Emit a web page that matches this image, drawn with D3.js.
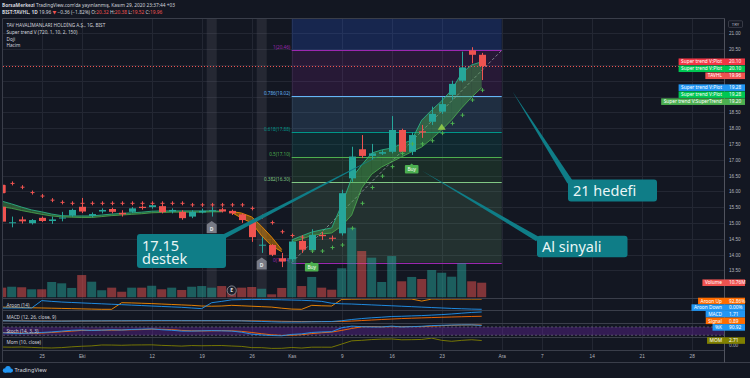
<!DOCTYPE html>
<html>
<head>
<meta charset="utf-8">
<script src="https://cdn.jsdelivr.net/npm/d3@7"></script>
<style>
  body { margin: 0; background: #131722; }
  svg { display: block; font-family: "Noto Sans", "DejaVu Sans", sans-serif; }
</style>
</head>
<body>
<div id="chart"></div>
<script>
// daily bars, BIST:TAVHL, Sep 21 - Nov 27 2020 (Oct 29 holiday)
const dates = [
  '2020-09-21','2020-09-22','2020-09-23','2020-09-24','2020-09-25','2020-09-28','2020-09-29','2020-09-30',
  '2020-10-01','2020-10-02','2020-10-05','2020-10-06','2020-10-07','2020-10-08','2020-10-09','2020-10-12',
  '2020-10-13','2020-10-14','2020-10-15','2020-10-16','2020-10-19','2020-10-20','2020-10-21','2020-10-22',
  '2020-10-23','2020-10-26','2020-10-27','2020-10-28','2020-10-30','2020-11-02','2020-11-03','2020-11-04',
  '2020-11-05','2020-11-06','2020-11-09','2020-11-10','2020-11-11','2020-11-12','2020-11-13','2020-11-16',
  '2020-11-17','2020-11-18','2020-11-19','2020-11-20','2020-11-23','2020-11-24','2020-11-25','2020-11-26',
  '2020-11-27'
]
const opens = [15.51,15.00,15.11,14.99,15.16,15.06,15.14,15.23,15.51,15.22,15.36,15.44,15.32,15.35,15.51,15.50,
  15.53,15.36,15.35,15.20,15.33,15.38,15.43,15.38,15.27,15.04,14.29,14.30,13.88,13.85,14.43,14.14,
  14.62,14.53,14.67,16.41,17.33,17.12,17.19,17.25,17.94,17.25,17.90,18.20,18.52,19.05,19.50,20.46,20.32]
const highs = [15.56,15.20,15.20,15.12,15.20,15.20,15.35,15.45,15.79,15.33,15.46,15.48,15.40,15.50,15.55,15.62,
  15.58,15.46,15.40,15.40,15.45,15.50,15.48,15.42,15.30,15.10,14.55,14.33,14.05,14.45,14.52,14.80,
  14.72,14.60,16.05,17.41,17.78,17.50,17.30,18.38,17.98,17.86,18.10,18.68,18.99,19.50,20.42,20.56,20.38]
const lows = [15.00,14.86,14.98,14.95,15.03,14.97,15.05,15.20,15.31,15.18,15.30,15.30,15.20,15.32,15.42,15.45,
  15.30,15.30,15.10,15.15,15.30,15.20,15.33,15.25,15.00,14.40,14.05,13.95,13.60,13.80,14.05,14.05,
  14.46,14.42,14.60,16.30,17.05,17.00,17.15,17.20,17.20,17.15,17.69,18.10,18.45,18.90,19.45,20.05,19.52]
const closes = [15.04,15.02,15.05,15.09,15.06,15.11,15.17,15.41,15.36,15.28,15.41,15.35,15.27,15.46,15.47,15.56,
  15.34,15.41,15.15,15.35,15.38,15.40,15.36,15.30,15.09,14.55,14.31,13.99,13.78,14.41,14.15,14.62,
  14.58,14.50,15.94,17.10,17.12,17.20,17.24,17.94,17.25,17.78,17.86,18.45,18.76,19.40,19.92,20.32,19.96]
// volume, millions
const volumes = [7.1,7.8,7.4,5.9,5.9,11.3,10.3,6.9,16.4,11.5,5.2,7.1,4.1,7.1,7.1,8.5,
  5.9,7.1,5.4,7.8,8.3,7.1,8.3,6.9,7.1,7.6,6.3,2.2,6.9,28.8,8.3,15.0,
  7.1,5.6,21.4,51.3,34.1,29.2,11.3,30.4,11.8,15.0,13.5,20.1,18.1,15.2,25.1,11.8,10.76]

// Super trend V: two plots forming the cloud, plus the trailing stop crosses
const stFast = [15.69,15.60,15.50,15.41,15.35,15.28,15.23,15.22,15.22,15.22,15.25,15.28,15.30,15.32,15.34,15.37,
  15.38,15.38,15.38,15.38,15.38,15.38,15.37,15.33,15.15,15.00,14.59,14.27,14.09,14.46,14.59,14.71,
  14.78,14.84,15.57,16.42,16.83,17.21,17.31,17.37,17.50,17.62,18.25,18.57,18.86,19.21,19.74,20.00,20.10]
const stSlow = [15.51,15.46,15.39,15.33,15.27,15.22,15.19,15.18,15.17,15.17,15.20,15.23,15.25,15.27,15.29,15.32,
  15.33,15.34,15.34,15.34,15.34,15.35,15.35,15.36,15.31,15.19,14.89,14.55,14.16,14.40,14.49,14.60,
  14.65,14.68,14.90,15.25,16.10,16.54,16.77,16.93,17.09,17.25,17.40,17.66,17.94,18.26,18.64,18.98,19.28]
const stDown = [null,16.25,16.13,15.96,15.85,15.72,15.65,15.62,15.62,15.62,15.62,15.62,15.62,15.62,15.62,15.62,
  15.62,15.62,15.62,15.57,15.57,15.57,15.57,15.57,15.57,15.46,15.20,15.01,14.72,14.60,14.55,null,
  null,null,null,null,null,null,null,null,null,null,null,null,null,null,null,null,null]
const stUp = [null,null,null,null,null,null,null,null,null,null,null,null,null,null,null,null,
  null,null,null,null,null,null,null,null,null,null,null,null,null,null,null,14.11,
  14.11,14.22,14.30,14.83,15.62,16.12,16.48,16.78,17.20,17.50,17.50,17.60,17.84,18.15,18.41,18.89,19.20]
const buySignals = [31, 41]
const sellSignals = [0]
const trendMarks = [44]
const dojiBars = [21, 26]
const earningsBar = 23

// indicator panes
const aroonUp = [20,18,16,14,12,10,8,6,4,2,0,0,60,58,55,52,48,44,40,36,30,28,30,36,32,
  28,24,20,10,2,0,36,32,30,90,92,93,93,93,93,94,93,75,93,93,93,93,93,92.86]
const aroonDown = [12,12,12,12,79,72,66,62,58,54,50,46,42,38,34,30,26,22,18,12,6,60,72,86,88,
  90,89,88,86,84,82,78,72,55,50,48,44,40,36,32,28,24,20,16,12,8,5,2,0]
const macdLine = [0.02,0.0,-0.02,-0.03,-0.04,-0.04,-0.04,-0.02,0.0,0.0,0.01,0.02,0.02,0.03,0.04,0.05,
  0.05,0.05,0.04,0.04,0.04,0.04,0.04,0.03,0.01,-0.05,-0.10,-0.16,-0.21,-0.20,-0.20,-0.16,
  -0.13,-0.11,0.04,0.27,0.45,0.60,0.71,0.85,0.89,0.96,1.02,1.11,1.21,1.33,1.48,1.62,1.71]
const signalLine = [0.03,0.03,0.02,0.01,0.0,-0.01,-0.02,-0.02,-0.02,-0.01,-0.01,0.0,0.0,0.01,0.02,0.03,
  0.03,0.04,0.04,0.04,0.04,0.04,0.04,0.04,0.03,0.02,0.0,-0.03,-0.07,-0.10,-0.12,-0.13,
  -0.13,-0.13,-0.10,-0.03,0.07,0.17,0.27,0.36,0.45,0.52,0.58,0.64,0.70,0.75,0.80,0.85,0.89]
const stochK = [38,34,33,36,40,44,50,56,58,55,57,60,58,62,64,66,60,56,50,50,52,54,52,50,42,
  28,22,18,16,26,30,40,44,46,74,86,82,80,80,86,80,82,85,90,92,94,95,95,90.92]
const stochD = [40,37,35,34,36,40,45,50,55,56,57,57,58,60,61,64,63,61,55,52,51,52,53,52,48,
  40,31,23,19,20,24,32,38,43,55,69,81,83,81,82,82,83,82,86,89,92,94,95,94]
const momentum = [-0.7,-0.8,-0.7,-0.9,-1.1,-1.2,-1.0,-0.6,-0.3,-0.1,0.37,0.33,0.22,0.37,0.41,0.45,
  0.17,0.0,-0.21,0.07,-0.03,0.05,0.09,-0.16,-0.38,-1.01,-1.04,-1.42,-1.37,-0.94,-1.23,-0.78,
  -0.78,-0.80,0.85,2.55,2.82,3.21,3.46,3.53,3.10,3.16,3.28,3.95,2.82,2.30,2.80,3.12,2.71]

// fibonacci retracement, anchored Nov 2 (13.74) -> Dec 1 (20.46)
const fibLevels = [0, 0.382, 0.5, 0.618, 0.786, 1]
const fibPrices = [13.74, 16.30, 17.10, 17.88, 19.02, 20.46]
const fibFrom = 29, fibTo = 50

// axes
const tickIdx = [4, 8, 15, 20, 25, 29, 34, 39, 44, 50, 54, 59, 64, 69]
const tickLabels = ['25','Eki','12','19','26','Kas','9','16','23','Ara','7','14','21','28']
const priceGrid = [13.5,14,14.5,15,15.5,16,16.5,17,17.5,18,18.5,19,19.5,20,20.5,21]
const priceLabelTicks = [13.5,14,14.5,15,15.5,16,16.5,17,17.5,18,18.5,20.5,21]

const UP = '#26a69a', DN = '#ef5350'
const FIB_LINE = ['#9c27b0','#81c784','#4caf50','#009688','#64b5f6','#9c27b0']
const FIB_ZONE = ['#81c784','#4caf50','#009688','#64b5f6','#9c27b0','#2962ff']
const TXT = '#d1d4dc', AXT = '#b2b5be', GRID = '#232733', SEP = '#3a3e4a'

const W = 750, H = 378
const L = 3, R = 724, TOP = 18.3, MAINB = 297.7, AXT_Y = 350

const svg = d3.select('#chart').append('svg')
  .attr('width', W).attr('height', H)
  .style('background', '#131722')

const x = d3.scaleLinear().domain([0, 69]).range([1.7, 691.7])
const y = d3.scaleLinear().domain([13.5, 21]).range([270.3, 33.3])
const yVol = d3.scaleLinear().domain([0, d3.max(volumes)]).range([297.3, 227.7])
const yAroon = d3.scaleLinear().domain([0, 100]).range([309.3, 298.3])
const yMacd = d3.scaleLinear().domain([-0.3, 1.8]).range([322.5, 311.5])
const yStoch = d3.scaleLinear().domain([0, 100]).range([338, 324.2])
const yMom = d3.scaleLinear().domain([-2, 4.3]).range([349.5, 337.5])

const bars = dates.map((date, i) => ({ i, date, o: opens[i], h: highs[i], l: lows[i], c: closes[i], v: volumes[i] }))
const px = i => Math.round(x(i)) + 0.5

const defs = svg.append('defs')
defs.append('clipPath').attr('id', 'mainClip').append('rect')
  .attr('x', L).attr('y', TOP).attr('width', R - L).attr('height', MAINB - TOP)
defs.append('clipPath').attr('id', 'indClip').append('rect')
  .attr('x', L).attr('y', MAINB).attr('width', R - L).attr('height', AXT_Y - MAINB)

// vertical grid through every pane
svg.append('g').selectAll('line').data(tickIdx).join('line')
  .attr('x1', d => px(d)).attr('x2', d => px(d))
  .attr('y1', TOP).attr('y2', AXT_Y)
  .attr('stroke', GRID)

const main = svg.append('g').attr('clip-path', 'url(#mainClip)')

// horizontal price grid
main.append('g').selectAll('line').data(priceGrid).join('line')
  .attr('x1', L).attr('x2', R)
  .attr('y1', d => Math.round(y(d)) + 0.5).attr('y2', d => Math.round(y(d)) + 0.5)
  .attr('stroke', GRID)

// doji highlight columns
main.append('g').selectAll('rect').data(dojiBars).join('rect')
  .attr('x', d => x(d) - 5).attr('width', 10)
  .attr('y', TOP).attr('height', MAINB - TOP)
  .attr('fill', 'rgba(120,123,134,0.18)')

// fib zones, lines, labels
const fx0 = x(fibFrom), fx1 = x(fibTo)
const fib = main.append('g')
fibPrices.forEach((p, k) => {
  const top = k < fibPrices.length - 1 ? y(fibPrices[k + 1]) : TOP
  fib.append('rect')
    .attr('x', fx0).attr('width', fx1 - fx0)
    .attr('y', top).attr('height', y(p) - top)
    .attr('fill', FIB_ZONE[k]).attr('fill-opacity', k === 5 ? 0.2 : 0.15)
})
fibPrices.forEach((p, k) => {
  const yy = Math.round(y(p)) + 0.5
  fib.append('line').attr('x1', fx0).attr('x2', fx1).attr('y1', yy).attr('y2', yy)
    .attr('stroke', FIB_LINE[k]).attr('stroke-width', 1.2)
  fib.append('text').attr('x', fx0 - 1.5).attr('y', yy - 2)
    .attr('text-anchor', 'end').attr('font-size', 4.6).attr('fill', FIB_LINE[k])
    .text(`${fibLevels[k]}(${p.toFixed(2)})`)
})
fib.append('line')
  .attr('x1', fx0).attr('y1', y(fibPrices[0]))
  .attr('x2', fx1).attr('y2', y(fibPrices[5]))
  .attr('stroke', '#9598a1').attr('stroke-width', 0.8).attr('stroke-dasharray', '3,2')

// volume
main.append('g').selectAll('rect').data(bars).join('rect')
  .attr('x', d => x(d.i) - 4.5).attr('width', 9)
  .attr('y', d => yVol(d.v)).attr('height', d => yVol(0) - yVol(d.v))
  .attr('fill', d => d.c >= d.o ? 'rgba(38,166,154,0.5)' : 'rgba(239,83,80,0.5)')

// super trend cloud
const cloud = main.append('g')
for (let i = 0; i < bars.length - 1; i++) {
  const up0 = stFast[i] >= stSlow[i], up1 = stFast[i + 1] >= stSlow[i + 1]
  if (up0 !== up1) continue
  const pts = [[x(i), y(stFast[i])], [x(i + 1), y(stFast[i + 1])], [x(i + 1), y(stSlow[i + 1])], [x(i), y(stSlow[i])]]
  cloud.append('polygon').attr('points', pts.join(' '))
    .attr('fill', up0 ? 'rgba(76,175,80,0.42)' : 'rgba(255,152,0,0.45)')
  cloud.append('line').attr('x1', pts[0][0]).attr('y1', pts[0][1]).attr('x2', pts[1][0]).attr('y2', pts[1][1])
    .attr('stroke', up0 ? '#2bbd8e' : '#ff9800').attr('stroke-width', 0.8)
  cloud.append('line').attr('x1', pts[3][0]).attr('y1', pts[3][1]).attr('x2', pts[2][0]).attr('y2', pts[2][1])
    .attr('stroke', up0 ? '#4caf50' : '#ff9800').attr('stroke-width', 0.8)
}

// candles
const candles = main.append('g')
candles.selectAll('line').data(bars).join('line')
  .attr('x1', d => px(d.i)).attr('x2', d => px(d.i))
  .attr('y1', d => y(d.h)).attr('y2', d => y(d.l))
  .attr('stroke', d => d.c >= d.o ? UP : DN)
candles.selectAll('rect').data(bars).join('rect')
  .attr('x', d => px(d.i) - 3.5).attr('width', 7)
  .attr('y', d => y(Math.max(d.o, d.c)))
  .attr('height', d => Math.max(1, Math.abs(y(d.o) - y(d.c))))
  .attr('fill', d => d.c >= d.o ? UP : DN)

// super trend crosses
const cross = 'M-2,0H2M0,-2V2'
main.append('g').selectAll('path').data(stDown.map((v, i) => [i, v]).filter(d => d[1] !== null)).join('path')
  .attr('d', cross).attr('transform', d => `translate(${px(d[0])},${y(d[1])})`)
  .attr('stroke', '#ef5350').attr('stroke-width', 1)
main.append('g').selectAll('path').data(stUp.map((v, i) => [i, v]).filter(d => d[1] !== null)).join('path')
  .attr('d', cross).attr('transform', d => `translate(${px(d[0])},${y(d[1])})`)
  .attr('stroke', '#4caf50').attr('stroke-width', 1)

// signal labels
const marks = main.append('g')
buySignals.forEach(i => {
  const tip = y(lows[i]) + 8.5, cx = x(i)
  marks.append('path').attr('d', `M${cx},${tip}L${cx + 2},${tip + 1.8}L${cx - 2},${tip + 1.8}Z`).attr('fill', '#4caf50')
  marks.append('rect').attr('x', cx - 6.8).attr('y', tip + 1.6).attr('width', 13.6).attr('height', 8.4)
    .attr('rx', 1).attr('fill', '#4caf50')
  marks.append('text').attr('x', cx).attr('y', tip + 7.6).attr('text-anchor', 'middle')
    .attr('font-size', 4.8).attr('fill', '#fff').text('Buy')
})
// sell label sits mostly off the left edge; only its right end shows
sellSignals.forEach(i => {
  const cx = x(i) - 3, top = y(16.3) + 3
  marks.append('rect').attr('x', cx - 7).attr('y', top).attr('width', 14).attr('height', 8.4)
    .attr('rx', 1).attr('fill', '#ef5350')
  marks.append('path').attr('d', `M${cx + 3.2},${top + 2}V${top + 6.4}`)
    .attr('stroke', '#fff').attr('stroke-width', 0.6)
})
trendMarks.forEach(i => {
  const cx = x(i), by = y(stUp[i]) - 3.5
  marks.append('path').attr('d', `M${cx},${by - 6}L${cx + 4},${by}L${cx - 4},${by}Z`).attr('fill', '#8bc34a')
})
dojiBars.forEach(i => {
  const cx = x(i), top = y(lows[i]) + 4.5
  marks.append('path')
    .attr('d', `M${cx},${top}L${cx + 5},${top + 3.5}V${top + 12}H${cx - 5}V${top + 3.5}Z`)
    .attr('fill', '#787b86')
  marks.append('text').attr('x', cx).attr('y', top + 10).attr('text-anchor', 'middle')
    .attr('font-size', 5).attr('font-weight', 'bold').attr('fill', '#e6e7ea').text('D')
})
marks.append('circle').attr('cx', x(earningsBar)).attr('cy', 290.5).attr('r', 4.6)
  .attr('fill', '#1e222d').attr('stroke', '#9598a1').attr('stroke-width', 0.8)
marks.append('text').attr('x', x(earningsBar)).attr('y', 292.3).attr('text-anchor', 'middle')
  .attr('font-size', 5).attr('font-weight', 'bold').attr('fill', '#e6e7ea').text('E')

// last price line
const lastY = Math.round(y(closes[closes.length - 1])) + 0.5
main.append('line').attr('x1', L).attr('x2', R).attr('y1', lastY).attr('y2', lastY)
  .attr('stroke', '#ef5350').attr('stroke-dasharray', '1,2')

// callouts
const callouts = [
  { lines: ['17.15', 'destek'], box: [137, 234, 89, 34], tip: [388.3, 151], base: [222, 237.5], w: 4.5 },
  { lines: ['21 hedefi'], box: [568, 179.5, 89, 22], tip: [512.5, 91.5], base: [570, 182], w: 6 },
  { lines: ['Al sinyali'], box: [537, 235.7, 90.5, 21.5], tip: [421.5, 170.5], base: [537.5, 239], w: 5 }
]
const co = main.append('g')
callouts.forEach(c => {
  const dx = c.base[0] - c.tip[0], dy = c.base[1] - c.tip[1], len = Math.hypot(dx, dy)
  const nx = -dy / len * c.w / 2, ny = dx / len * c.w / 2
  co.append('path')
    .attr('d', `M${c.tip[0]},${c.tip[1]}L${c.base[0] + nx},${c.base[1] + ny}L${c.base[0] - nx},${c.base[1] - ny}Z`)
    .attr('fill', '#0f7d87')
  co.append('rect').attr('x', c.box[0]).attr('y', c.box[1]).attr('width', c.box[2]).attr('height', c.box[3])
    .attr('rx', 3).attr('fill', '#0f7d87')
  const t = co.append('text').attr('font-size', 14.5).attr('fill', '#eaf6f6')
  c.lines.forEach((line, k) => {
    t.append('tspan').attr('x', c.box[0] + 5)
      .attr('y', c.box[1] + 16.5 + k * 13.5).text(line)
  })
})

// indicator panes
const ind = svg.append('g').attr('clip-path', 'url(#indClip)')
ind.append('rect').attr('x', L).attr('width', R - L)
  .attr('y', yStoch(80)).attr('height', yStoch(20) - yStoch(80))
  .attr('fill', 'rgba(126,40,200,0.3)')
;[80, 20].forEach(v => ind.append('line').attr('x1', L).attr('x2', R)
  .attr('y1', yStoch(v)).attr('y2', yStoch(v))
  .attr('stroke', '#787b86').attr('stroke-opacity', 0.6).attr('stroke-dasharray', '2,2'))

const series = [
  [aroonUp, yAroon, '#fb8c00'],
  [aroonDown, yAroon, '#2196f3'],
  [signalLine, yMacd, '#ff6d00'],
  [macdLine, yMacd, '#2196f3'],
  [stochD, yStoch, '#ff6d00'],
  [stochK, yStoch, '#2196f3'],
  [momentum, yMom, '#808000']
]
series.forEach(([vals, sc, col]) => {
  ind.append('path')
    .attr('d', d3.line().x((d, i) => x(i)).y(d => sc(d))(vals))
    .attr('fill', 'none').attr('stroke', col).attr('stroke-width', 0.9)
})

// pane separators and frame
;[TOP, MAINB, 310.3, 323, 337, AXT_Y].forEach(v => svg.append('line')
  .attr('x1', L).attr('x2', R).attr('y1', Math.round(v) + 0.5).attr('y2', Math.round(v) + 0.5)
  .attr('stroke', SEP))
svg.append('line').attr('x1', 0).attr('x2', W).attr('y1', 362.5).attr('y2', 362.5).attr('stroke', SEP)
svg.append('line').attr('x1', 2.5).attr('x2', 2.5).attr('y1', TOP).attr('y2', 362.5).attr('stroke', SEP)
svg.append('line').attr('x1', R + 0.5).attr('x2', R + 0.5).attr('y1', TOP).attr('y2', 362.5).attr('stroke', '#50535e')

const paneNames = [['Aroon (14)', 307], ['MACD (12, 26, close, 9)', 319], ['Stoch (14, 3, 3)', 333], ['Mom (10, close)', 344.4]]
paneNames.forEach(([t, by]) => svg.append('text').attr('x', 6.5).attr('y', by)
  .attr('font-size', 4.7).attr('fill', TXT).text(t))

// time axis
const xAxis = svg.append('g').attr('transform', `translate(0,${AXT_Y})`)
  .call(d3.axisBottom(x).tickValues(tickIdx).tickFormat((d, i) => tickLabels[i]).tickSize(0).tickPadding(5))
xAxis.select('.domain').remove()
xAxis.selectAll('text').attr('fill', AXT).attr('font-size', 4.7).attr('font-family', null)

// price axis
const yAxis = svg.append('g').attr('transform', `translate(${R},0)`)
  .call(d3.axisRight(y).tickValues(priceLabelTicks).tickFormat(d3.format('.2f')).tickSize(0).tickPadding(5))
yAxis.select('.domain').remove()
yAxis.selectAll('text').attr('fill', AXT).attr('font-size', 4.7).attr('font-family', null)
svg.append('text').attr('x', 729).attr('y', yMom(0) + 1.6).attr('font-size', 4.7).attr('fill', AXT).text('0.00')

svg.append('rect').attr('x', 728.5).attr('y', 20.8).attr('width', 14).attr('height', 6.6)
  .attr('rx', 1).attr('fill', 'none').attr('stroke', '#50535e').attr('stroke-width', 0.6)
svg.append('text').attr('x', 735.5).attr('y', 25.7).attr('text-anchor', 'middle')
  .attr('font-size', 4.2).attr('fill', AXT).text('TRY')

// value labels on the price scale
function placeLabels(items, gap) {
  items.forEach(d => { if (d.lo !== undefined) d.y = Math.max(d.lo, Math.min(d.hi, d.y)) })
  items.sort((a, b) => a.y - b.y)
  for (let k = 1; k < items.length; k++) {
    if (items[k].y < items[k - 1].y + gap) items[k].y = items[k - 1].y + gap
  }
  items.forEach(d => {
    const g = svg.append('g').attr('transform', `translate(0,${d.y})`)
    const r = g.append('rect')
    const t = g.append('text').attr('x', 722).attr('y', 1.7).attr('text-anchor', 'end')
      .attr('font-size', 4.8).attr('fill', '#fff').text(d.name)
    g.append('text').attr('x', 729).attr('y', 1.7).attr('font-size', 4.8).attr('fill', '#fff').text(d.value)
    const left = 722 - t.node().getComputedTextLength() - 2.5
    r.attr('x', left).attr('y', -3.3).attr('width', 745 - left).attr('height', 6.6).attr('fill', d.color)
  })
}
const n = bars.length - 1
placeLabels([
  { name: 'Super trend V:Plot', value: stFast[n].toFixed(2), color: '#f23645', y: y(stFast[n]) },
  { name: 'Super trend V:Plot', value: stFast[n].toFixed(2), color: '#00c853', y: y(stFast[n]) + 0.01 },
  { name: 'TAVHL', value: closes[n].toFixed(2), color: '#ef5350', y: y(closes[n]) },
  { name: 'Super trend V:Plot', value: stSlow[n].toFixed(2), color: '#2196f3', y: y(stSlow[n]) },
  { name: 'Super trend V:Plot', value: stSlow[n].toFixed(2), color: '#00c853', y: y(stSlow[n]) + 0.01 },
  { name: 'Super trend V:SuperTrend', value: stUp[n].toFixed(2), color: '#4caf50', y: y(stUp[n]) }
], 7)
placeLabels([
  { name: 'Volume', value: volumes[n].toFixed(2) + 'M', color: '#ef5350', y: yVol(volumes[n]) },
  { name: 'Aroon Up', value: aroonUp[n].toFixed(2) + '%', color: '#ff6d00', y: yAroon(aroonUp[n]), lo: 301, hi: 307 },
  { name: 'Aroon Down', value: aroonDown[n].toFixed(2) + '%', color: '#2196f3', y: yAroon(aroonDown[n]), lo: 301, hi: 307 },
  { name: 'MACD', value: macdLine[n].toFixed(2), color: '#2196f3', y: yMacd(macdLine[n]), lo: 313.3, hi: 319.7 },
  { name: 'Signal', value: signalLine[n].toFixed(2), color: '#ff6d00', y: yMacd(signalLine[n]), lo: 313.3, hi: 319.7 },
  { name: '%K', value: stochK[n].toFixed(2), color: '#2196f3', y: yStoch(stochK[n]), lo: 326.3, hi: 333.7 },
  { name: 'MOM', value: momentum[n].toFixed(2), color: '#808000', y: yMom(momentum[n]), lo: 340.3, hi: 346.7 }
], 6.6)

// header
const h1 = svg.append('text').attr('x', 2).attr('y', 7.4).attr('font-size', 4.8).attr('fill', TXT)
h1.append('tspan').attr('font-weight', 'bold').text('BorsaMerkezi')
h1.append('tspan').text(" TradingView.com'da yayınlanmış, Kasım 29, 2020 23:37:44 +03")
const h2 = svg.append('text').attr('x', 2).attr('y', 14.4).attr('font-size', 4.8).attr('fill', TXT)
const parts = [
  ['BIST:TAVHL, 1D ', TXT, 'bold'], ['19.96 ', TXT], ['▼ ', DN], ['−0.36 (−1.82%) ', TXT],
  ['O:', TXT], ['20.32 ', DN], ['H:', TXT], ['20.38 ', DN], ['L:', TXT], ['19.52 ', DN], ['C:', TXT], ['19.96', DN]
]
parts.forEach(([t, c, w]) => h2.append('tspan').attr('fill', c).attr('font-weight', w || null).text(t))

const legend = ['TAV HAVALİMANLARI HOLDİNG A.Ş., 1G, BIST', 'Super trend V (720, 1, 10, 2, 150)', 'Doji', 'Hacim']
legend.forEach((t, k) => svg.append('text').attr('x', 6.5).attr('y', 26.7 + k * 6.9)
  .attr('font-size', 4.7).attr('fill', TXT).text(t))

// logo
const logo = svg.append('g').attr('fill', '#2196f3')
logo.append('circle').attr('cx', 5).attr('cy', 370.5).attr('r', 2.2)
logo.append('circle').attr('cx', 8).attr('cy', 368.8).attr('r', 2.8)
logo.append('circle').attr('cx', 11).attr('cy', 370.6).attr('r', 2)
logo.append('rect').attr('x', 5).attr('y', 370).attr('width', 6).attr('height', 2.6)
svg.append('text').attr('x', 14.5).attr('y', 372.4).attr('font-size', 5.6).attr('fill', TXT).text('TradingView')
</script>
</body>
</html>
